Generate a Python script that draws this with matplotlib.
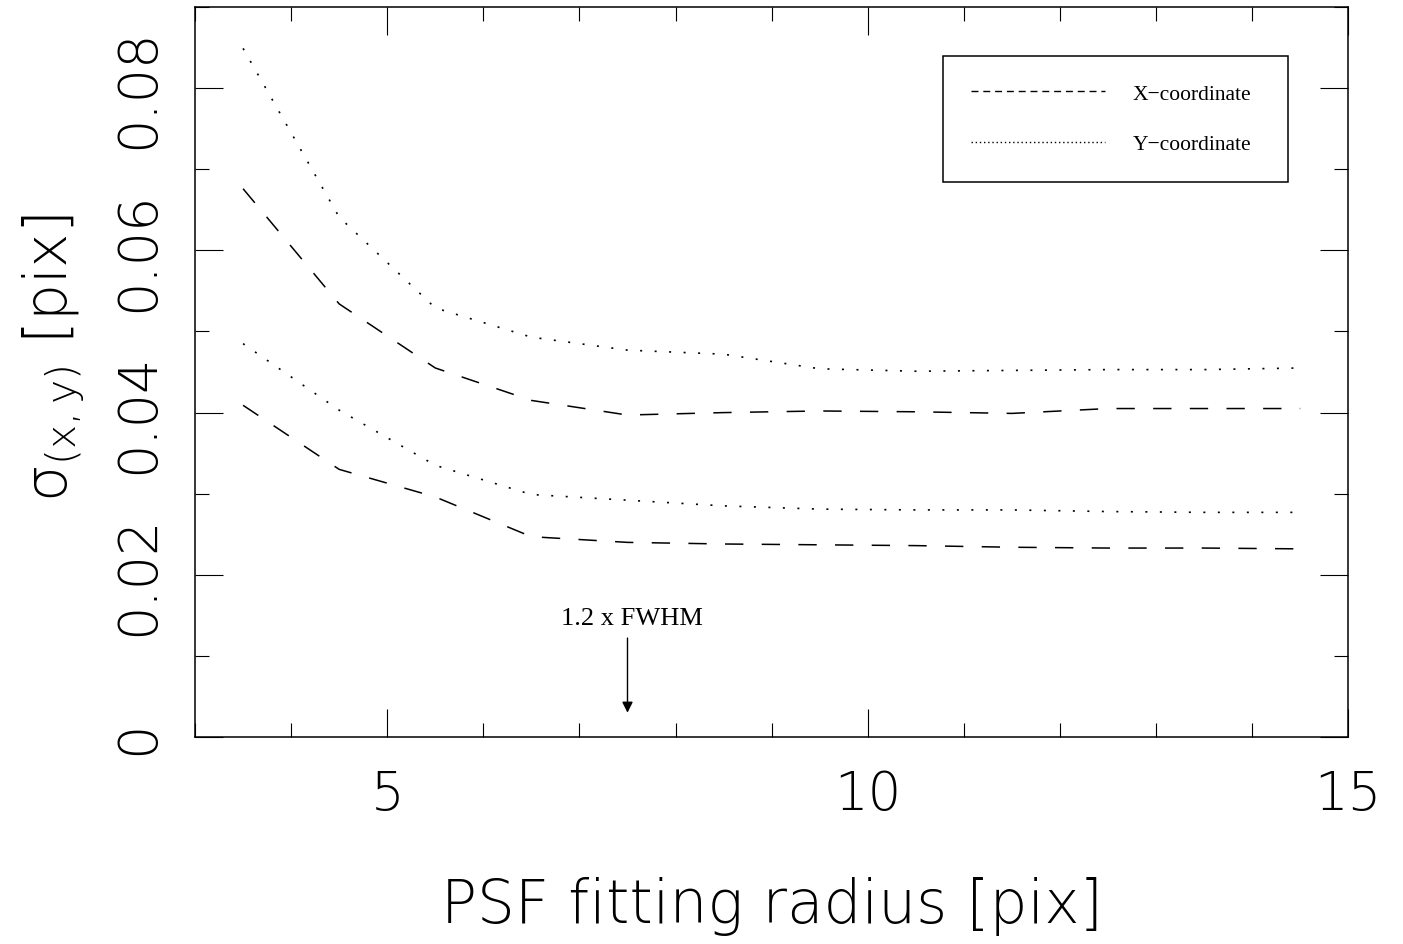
import numpy as np
import matplotlib.pyplot as plt
from matplotlib.lines import Line2D
from matplotlib.ticker import MultipleLocator

# PSF fitting radius [pix]
radius = [3.5, 4.5, 5.5, 6.5, 7.5, 8.5, 9.5, 10.5, 11.5, 12.5, 13.5, 14.5]

# upper pair of curves
x_upper = [0.0676, 0.0534, 0.0455, 0.0415, 0.0397, 0.0400, 0.0402, 0.0401, 0.0399, 0.0405, 0.0405, 0.0405]
y_upper = [0.0849, 0.0641, 0.0529, 0.0493, 0.0477, 0.0472, 0.0454, 0.0451, 0.0452, 0.0453, 0.0453, 0.0455]

# lower pair of curves
x_lower = [0.0409, 0.0330, 0.0296, 0.0247, 0.0240, 0.0238, 0.0237, 0.0236, 0.0234, 0.0233, 0.0233, 0.0232]
y_lower = [0.0485, 0.0403, 0.0335, 0.0299, 0.0292, 0.0285, 0.0281, 0.0280, 0.0280, 0.0278, 0.0277, 0.0277]

fwhm_x = 7.5
fwhm_label = '1.2 x FWHM'

plt.rcParams['font.family'] = ['DejaVu Sans']
plt.rcParams['mathtext.fontset'] = 'dejavusans'
serif = ['Liberation Serif', 'DejaVu Serif']
thin = 'ultralight'

fig = plt.figure(figsize=(14.03, 9.45), dpi=100)
ax = fig.add_axes([0.139, 0.219, 0.822, 0.7725])

dash_long = (12, 12)
dot_sep = (1.2, 7.5)
ax.plot(radius, x_upper, color='black', lw=1.1, dashes=dash_long)
ax.plot(radius, y_upper, color='black', lw=1.2, dashes=dot_sep)
ax.plot(radius, x_lower, color='black', lw=1.1, dashes=dash_long)
ax.plot(radius, y_lower, color='black', lw=1.2, dashes=dot_sep)

ax.set_xlim(3, 15)
ax.set_ylim(0, 0.09)

# arrow marking 1.2 x FWHM
ax.annotate('', xy=(fwhm_x, 0.003), xytext=(fwhm_x, 0.0122),
            arrowprops=dict(arrowstyle='-|>', color='black', lw=1.0,
                            mutation_scale=16, shrinkA=0, shrinkB=0))
ax.text(fwhm_x + 0.05, 0.0139, fwhm_label, ha='center', va='baseline',
        fontsize=19, family=serif)

# legend box stretched to the width seen in the original
handles = [Line2D([], [], color='black', lw=1.0, dashes=(5, 3.5)),
           Line2D([], [], color='black', lw=1.0, dashes=(1, 2))]
leg = ax.legend(handles, ['X\u2212coordinate', 'Y\u2212coordinate'],
                loc='upper left', mode='expand',
                bbox_to_anchor=(0.6487, 0.767, 0.2992, 0.166),
                prop={'family': serif, 'size': 15.5}, handlelength=6.2,
                handletextpad=1.3, labelspacing=1.4, borderpad=1.3,
                borderaxespad=0, fancybox=False, framealpha=1)
leg.get_frame().set_edgecolor('black')
leg.get_frame().set_linewidth(1.1)

# ticks
ax.xaxis.set_major_locator(MultipleLocator(5))
ax.xaxis.set_minor_locator(MultipleLocator(1))
ax.yaxis.set_major_locator(MultipleLocator(0.02))
ax.yaxis.set_minor_locator(MultipleLocator(0.01))
ax.tick_params(which='both', direction='in', top=True, right=True, width=0.8)
ax.tick_params(which='major', length=20)
ax.tick_params(which='minor', length=10)
ax.tick_params(axis='x', which='major', labelsize=38, pad=22)
ax.tick_params(axis='y', which='major', labelsize=39, pad=22)
ax.set_yticks([0, 0.02, 0.04, 0.06, 0.08])
ax.set_yticklabels(['0', '0.02', '0.04', '0.06', '0.08'])
for lab in ax.get_yticklabels():
    lab.set_rotation(90)
    lab.set_va('center')
    lab.set_fontweight(thin)
for lab in ax.get_xticklabels():
    lab.set_fontweight(thin)
for s in ax.spines.values():
    s.set_linewidth(1.1)

ax.set_xlabel('PSF fitting radius [pix]', fontsize=43, labelpad=40,
              fontweight=thin)
ax.set_ylabel('$\\mathregular{\u03c3_{(x,y)}}$ [pix]', fontsize=42,
              labelpad=18, fontweight=thin, y=0.52)

fig.savefig('out.png', dpi=100)
